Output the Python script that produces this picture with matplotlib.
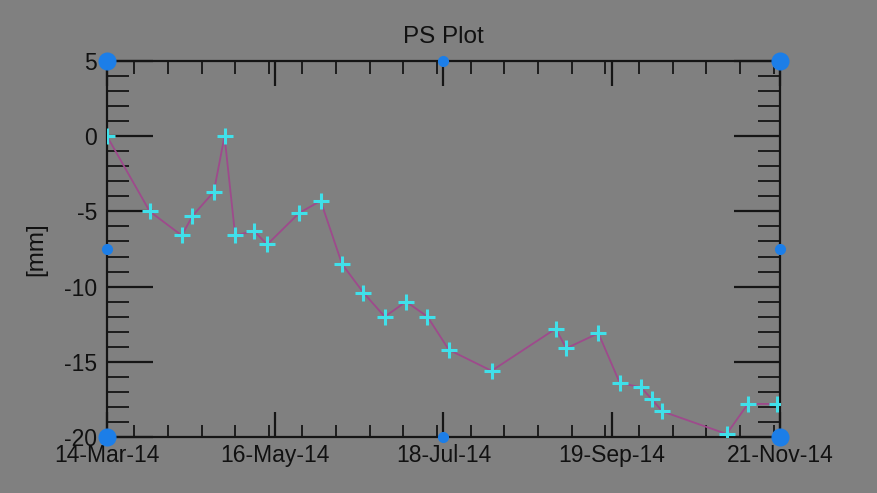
import numpy as np
import pandas as pd
import matplotlib.pyplot as plt
import matplotlib.dates as mdates
from matplotlib.ticker import MultipleLocator

plt.rcParams['font.family'] = ['Liberation Sans', 'DejaVu Sans']
plt.rcParams['axes.unicode_minus'] = False

# displacement time series of one PS point
dates = ['2014-03-14', '2014-03-30', '2014-04-11', '2014-04-15', '2014-04-23',
         '2014-04-27', '2014-05-01', '2014-05-08', '2014-05-13', '2014-05-25',
         '2014-06-02', '2014-06-10', '2014-06-18', '2014-06-26', '2014-07-04',
         '2014-07-12', '2014-07-20', '2014-08-05', '2014-08-29', '2014-09-02',
         '2014-09-14', '2014-09-22', '2014-09-30', '2014-10-04', '2014-10-08',
         '2014-11-01', '2014-11-09', '2014-11-20']
disp_mm = [0.0, -5.0, -6.6, -5.3, -3.7, 0.0, -6.6, -6.3, -7.2, -5.1,
           -4.3, -8.5, -10.4, -12.0, -11.0, -12.0, -14.2, -15.6, -12.8, -14.1,
           -13.1, -16.4, -16.7, -17.5, -18.3, -19.8, -17.8, -17.8]

tick_dates = ['2014-03-14', '2014-05-16', '2014-07-18', '2014-09-19', '2014-11-21']
tick_labels = ['14-Mar-14', '16-May-14', '18-Jul-14', '19-Sep-14', '21-Nov-14']
y_min, y_max = -20, 5

df = pd.DataFrame({'date': pd.to_datetime(dates), 'disp': disp_mm})
tdates = pd.to_datetime(tick_dates)
x0 = mdates.date2num(tdates[0])
x1 = mdates.date2num(tdates[-1])

bg = '#808080'
fig = plt.figure(figsize=(8.78, 4.93), dpi=100, facecolor=bg)
ax = fig.add_axes([107 / 878, 1 - 437 / 493, (780 - 107) / 878, (437 - 61) / 493])
ax.set_facecolor(bg)

ax.plot(df['date'], df['disp'], color='#9e4a8c', linewidth=1.3, zorder=3)
ax.plot(df['date'], df['disp'], linestyle='none', marker='+', markersize=12,
        markeredgewidth=2.2, color='#40e0ea', zorder=4)

ax.set_xlim(x0, x1)
ax.set_ylim(y_min, y_max)

ax.set_xticks(mdates.date2num(tdates))
ax.set_xticklabels(tick_labels)
ax.xaxis.set_minor_locator(MultipleLocator((x1 - x0) / 20))
ax.yaxis.set_major_locator(MultipleLocator(5))
ax.yaxis.set_minor_locator(MultipleLocator(1))

ax.tick_params(axis='both', which='both', direction='in', colors='#151515',
               labelcolor='#111111', labelsize=16.5)
ax.tick_params(axis='x', which='major', length=18, width=1.6, top=True, pad=5)
ax.tick_params(axis='x', which='minor', length=9, width=1.3, top=True)
ax.tick_params(axis='y', which='major', length=33, width=1.6, right=True, pad=7)
ax.tick_params(axis='y', which='minor', length=16, width=1.3, right=True)
for s in ax.spines.values():
    s.set_color('#151515')
    s.set_linewidth(1.6)

# blue handle dots at corners and midpoints
xm = (x0 + x1) / 2
ym = (y_min + y_max) / 2
ax.plot([x0, x1, x0, x1], [y_min, y_min, y_max, y_max], 'o', color='#1c7ee8',
        markersize=12, clip_on=False, zorder=5)
ax.plot([xm, xm, x0, x1], [y_min, y_max, ym, ym], 'o', color='#1c7ee8',
        markersize=7, clip_on=False, zorder=5)

ax.set_title('PS Plot', fontsize=17.5, color='#111111', pad=13)
ax.set_ylabel('[mm]', fontsize=17.5, color='#111111', labelpad=12)

fig.savefig('out.png', dpi=100, facecolor=bg)
